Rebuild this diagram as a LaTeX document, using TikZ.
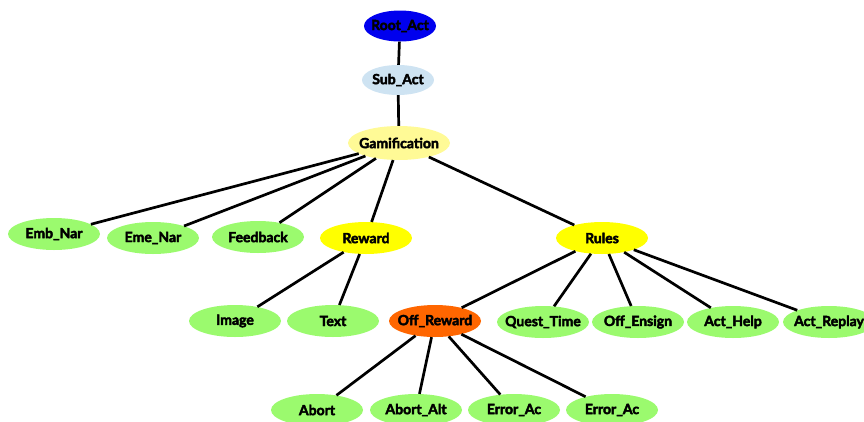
\documentclass[tikz,border=0pt]{standalone}
\usepackage{fontspec}
\setmainfont{Lato}[BoldFeatures={FakeBold=3}]
\usetikzlibrary{shapes.geometric}
\definecolor{rootblue}{RGB}{0,0,238}
\definecolor{subblue}{RGB}{206,227,242}
\definecolor{gampale}{RGB}{255,250,150}
\definecolor{ruleyel}{RGB}{255,255,0}
\definecolor{leafgreen}{RGB}{155,250,110}
\definecolor{offorange}{RGB}{255,102,0}
\tikzset{
  act/.style={ellipse, draw=none, inner xsep=-18pt, inner ysep=-2pt, minimum width=92pt, minimum height=32pt,
    font=\fontsize{14}{16}\selectfont\bfseries},
  leaf/.style={act, fill=leafgreen},
  branch/.style={act, fill=ruleyel},
  link/.style={line width=2.7pt}
}
\begin{document}
\begin{tikzpicture}[x=1pt,y=-1pt]
\useasboundingbox (0,0) rectangle (864,421);
\def\lf#1#2#3#4{\node[leaf] (#1) at (#2,#3) {#4};}
% top of the tree
\node[act, fill=rootblue, minimum width=72pt, minimum height=31pt] (root) at (400,26) {Root\_Act};
\node[act, fill=subblue, minimum width=72pt, minimum height=30pt] (sub) at (398,80) {Sub\_Act};
\node[act, fill=gampale, minimum width=102pt, minimum height=34pt] (gam) at (399,143) {Gamification};
% second level
\lf{emb}{54}{234}{Emb\_Nar}
\lf{eme}{153}{238}{Eme\_Nar}
\lf{fee}{258}{237}{Feedback}
\node[branch] (rew) at (366,238) {Reward};
\node[branch] (rul) at (602,238) {Rules};
% third level
\lf{img}{235}{321}{Image}
\lf{txt}{333}{321}{Text}
\node[act, fill=offorange] (off) at (435,321) {Off\_Reward};
\lf{que}{543}{322}{Quest\_Time}
\lf{ens}{638}{322}{Off\_Ensign}
\lf{hlp}{733}{322}{Act\_Help}
\lf{rep}{829}{322}{Act\_Replay}
% bottom
\lf{abo}{317}{410}{Abort}
\lf{alt}{416}{410}{Abort\_Alt}
\lf{erA}{514}{410}{Error\_Ac}
\lf{erB}{612}{410}{Error\_Ac}
% links
\draw[link] (root) -- (sub);
\draw[link] (sub) -- (gam);
\foreach \t in {emb,eme,fee,rew,rul} \draw[link] (gam) -- (\t);
\foreach \t in {img,txt} \draw[link] (rew) -- (\t);
\foreach \t in {off,que,ens,hlp,rep} \draw[link] (rul) -- (\t);
\foreach \t in {abo,alt,erA,erB} \draw[link] (off) -- (\t);
\end{tikzpicture}
\end{document}
